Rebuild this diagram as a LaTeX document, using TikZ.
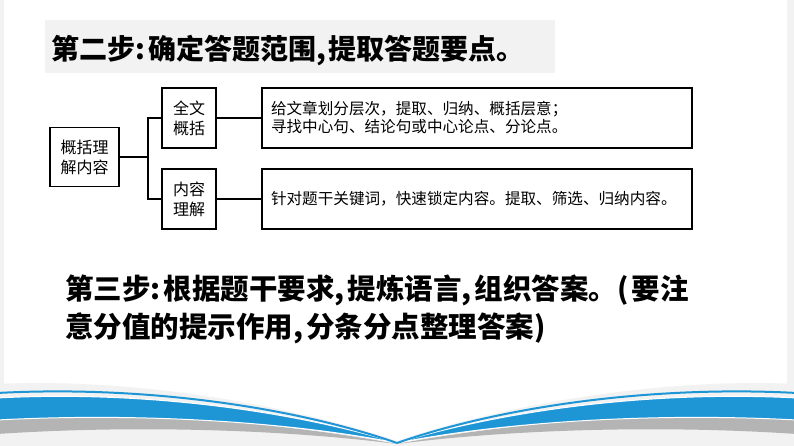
\documentclass[tikz,border=0pt]{standalone}
\usepackage{fontspec}
\setmainfont{Noto Sans CJK SC}
\definecolor{swblue}{HTML}{1E96D6}
\definecolor{swgray}{HTML}{B4B4B4}
\definecolor{bgpale}{HTML}{F2F2F2}
\newcommand\hp[1]{#1\hspace{3pt}}
\tikzset{
  box/.style={draw,line width=1.5pt,inner sep=0pt,align=center,font=\fontsize{16}{20}\selectfont},
  wide/.style={box,minimum width=430pt,minimum height=60pt,text width=412pt,align=left,font=\fontsize{15.6}{18}\selectfont},
  steptext/.style={anchor=west,inner sep=0pt,align=left,font=\fontsize{28}{38}\selectfont\bfseries}
}
\begin{document}
\begin{tikzpicture}[x=1pt,y=-1pt]
\useasboundingbox (0,0) rectangle (794,446);
\fill[white] (0,0) rectangle (794,446);
\fill[bgpale] (0,0) rectangle (4,446);
\fill[bgpale] (787,0) rectangle (794,446);
% swoosh at the bottom
\foreach \s in {1,-1}{
\begin{scope}[shift={(397,0)},xscale=\s]
\fill[bgpale] (-400,384) .. controls (-250,377) and (-90,410) .. (0,441) -- (0,446) -- (-400,446) -- cycle;
\fill[swgray] (-400,417) .. controls (-250,410) and (-100,425) .. (0,444) .. controls (-100,431) and (-250,424) .. (-400,434) -- cycle;
\fill[swblue,draw=white,line width=1pt] (-400,398) .. controls (-250,390) and (-100,412) .. (0,443) .. controls (-100,423) and (-250,412) .. (-400,420) -- cycle;
\draw[swblue,line width=2pt] (-400,393) .. controls (-250,385) and (-100,408) .. (0,443);
\end{scope}}
% step 2
\fill[bgpale] (44.5,20) rectangle (555,73);
\node[steptext] (step2) at (51,51) {第二步\hp{:}确定答题范围\hp{,}提取答题要点。};
% tree
\node[box,minimum width=69pt,minimum height=59pt] (root) at (84.5,157) {概括理\\解内容};
\node[box,minimum width=54pt,minimum height=60pt] (sum) at (189,118) {全文\\概括};
\node[box,minimum width=54pt,minimum height=60pt] (und) at (189,199) {内容\\理解};
\node[wide] (sumtxt) at (477,118) {给文章划分层次，提取、归纳、概括层意；\\寻找中心句、结论句或中心论点、分论点。};
\node[wide] (undtxt) at (477,199) {针对题干关键词，快速锁定内容。提取、筛选、归纳内容。};
\coordinate (fork) at (148,157);
\draw[line width=1.5pt] (root.east) -- (fork);
\draw[line width=1.5pt] (sum.west) -| (fork) |- (und.west);
\draw[line width=1.5pt] (sum.east) -- (sumtxt.west);
\draw[line width=1.5pt] (und.east) -- (undtxt.west);
% step 3
\node[steptext,font=\fontsize{28.5}{38}\selectfont\bfseries] (step3) at (65,309) {第三步\hp{:}根据题干要求\hp{,}提炼语言\hp{,}组织答案。\hp{(}要注\\意分值的提示作用\hp{,}分条分点整理答案)};
\end{tikzpicture}
\end{document}
